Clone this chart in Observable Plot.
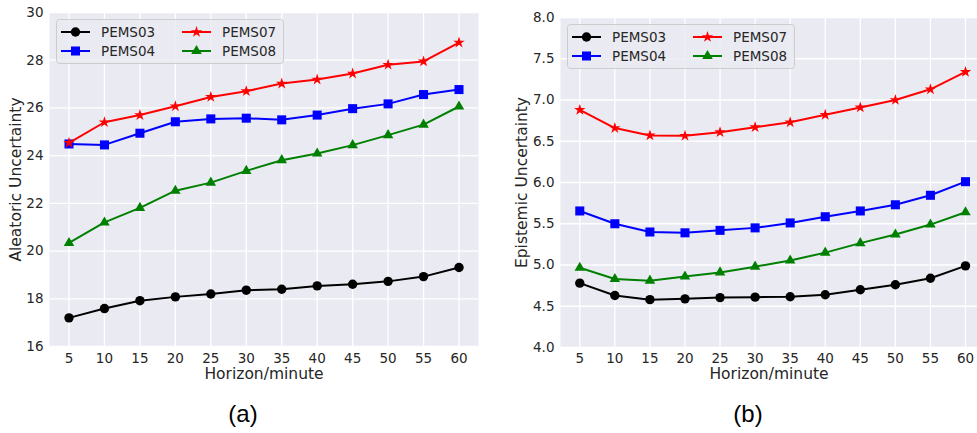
<!DOCTYPE html>
<html><head><meta charset="utf-8">
<script src="https://cdn.jsdelivr.net/npm/d3@7"></script>
<script src="https://cdn.jsdelivr.net/npm/@observablehq/plot@0.6"></script>
<style>
body{margin:0;background:#fff;}
#wrap{position:relative;width:977px;height:433px;overflow:hidden;font-family:"DejaVu Sans",sans-serif;}
.panel{position:absolute;top:0;}
.cap{position:absolute;font-family:"Liberation Sans",Arial,sans-serif;font-size:24px;color:#000;transform:translate(-50%,-50%);white-space:nowrap;}
.legend{position:absolute;}
</style></head><body>
<div id="wrap"></div>
<script>
const horizons = [5, 10, 15, 20, 25, 30, 35, 40, 45, 50, 55, 60];
const seriesNames = ["PEMS03", "PEMS04", "PEMS07", "PEMS08"];

// (a) Aleatoric uncertainty
const aleatoricPEMS03 = [17.2, 17.59, 17.92, 18.08, 18.2, 18.36, 18.4, 18.54, 18.61, 18.73, 18.93, 19.31];
const aleatoricPEMS04 = [24.49, 24.45, 24.94, 25.42, 25.54, 25.57, 25.5, 25.7, 25.97, 26.17, 26.56, 26.77];
const aleatoricPEMS07 = [24.54, 25.4, 25.7, 26.07, 26.46, 26.7, 27.02, 27.19, 27.44, 27.81, 27.95, 28.74];
const aleatoricPEMS08 = [20.34, 21.2, 21.81, 22.53, 22.87, 23.36, 23.81, 24.09, 24.44, 24.86, 25.3, 26.06];
const aleatoricTicks = [16, 18, 20, 22, 24, 26, 28, 30];

// (b) Epistemic uncertainty
const epistemicPEMS03 = [4.78, 4.63, 4.58, 4.59, 4.605, 4.61, 4.615, 4.64, 4.7, 4.76, 4.84, 4.99];
const epistemicPEMS04 = [5.655, 5.5, 5.4, 5.39, 5.42, 5.45, 5.51, 5.585, 5.655, 5.73, 5.845, 6.01];
const epistemicPEMS07 = [6.88, 6.66, 6.57, 6.566, 6.61, 6.67, 6.73, 6.82, 6.91, 7.0, 7.13, 7.34];
const epistemicPEMS08 = [4.966, 4.83, 4.81, 4.86, 4.91, 4.98, 5.055, 5.15, 5.265, 5.37, 5.49, 5.64];
const epistemicTicks = [4.0, 4.5, 5.0, 5.5, 6.0, 6.5, 7.0, 7.5, 8.0];

const colors = ["#000000", "#0000ff", "#ff0000", "#008000"];
const symbols = ["circle", "square", "star", "triangle"];
const radii = [4.7, 5.1, 3.6, 3.9];
const d3symbols = [d3.symbolCircle, d3.symbolSquare, d3.symbolStar, d3.symbolTriangle];

const wrap = document.getElementById("wrap");

function makePanel(o) {
  const data = seriesNames.flatMap((s, i) => horizons.map((h, j) => ({series: s, h, v: o.values[i][j]})));
  const marks = [
    Plot.frame({fill: "#EAEAF2", stroke: null}),
    Plot.gridX(horizons, {stroke: "#ffffff", strokeOpacity: 1, strokeWidth: 1.3}),
    Plot.gridY(o.ticks, {stroke: "#ffffff", strokeOpacity: 1, strokeWidth: 1.3}),
    Plot.axisX(horizons, {tickSize: 0, tickPadding: o.xpad, label: null}),
    Plot.axisY(o.ticks, {tickSize: 0, tickPadding: 6, tickFormat: o.fmt, label: null}),
    Plot.text([o.yLabel], {text: d => d, frameAnchor: "left", dx: o.ylabelDx, rotate: -90, textAnchor: "middle", lineAnchor: "middle", fontSize: 15.5, fill: "#262626"}),
    Plot.text(["Horizon/minute"], {text: d => d, frameAnchor: "bottom", dy: o.xlabelDy, textAnchor: "middle", lineAnchor: "middle", fontSize: 15.5, fill: "#262626"})
  ];
  seriesNames.forEach((s, i) => {
    const d = data.filter(e => e.series === s);
    marks.push(Plot.line(d, {x: "h", y: "v", stroke: colors[i], strokeWidth: 2}));
    marks.push(Plot.dot(d, {x: "h", y: "v", symbol: symbols[i], fill: colors[i], stroke: "none", r: radii[i]}));
  });
  const svg = Plot.plot({
    width: o.width, height: 400,
    marginLeft: o.ml, marginRight: o.mr, marginTop: o.mt, marginBottom: o.mb,
    x: {domain: o.xDomain, axis: null},
    y: {domain: o.yDomain, axis: null},
    style: {fontFamily: "DejaVu Sans", fontSize: "13.5px", color: "#262626", background: "transparent", overflow: "visible"},
    marks
  });
  const div = document.createElement("div");
  div.className = "panel";
  div.style.left = o.left + "px";
  div.appendChild(svg);
  wrap.appendChild(div);
}

function makeLegend(left, top) {
  const W = 227, H = 44;
  const svg = d3.create("svg").attr("width", W + 2).attr("height", H + 2).attr("class", "legend")
    .style("left", left + "px").style("top", top + "px");
  svg.append("rect").attr("x", 0.5).attr("y", 0.5).attr("width", W).attr("height", H).attr("rx", 3)
    .attr("fill", "#EAEAF2").attr("fill-opacity", 0.85).attr("stroke", "#cccccc").attr("stroke-width", 1);
  seriesNames.forEach((s, i) => {
    const col = Math.floor(i / 2), row = i % 2;
    const x0 = 5 + col * 121, y0 = 13 + row * 19;
    const g = svg.append("g");
    g.append("line").attr("x1", x0).attr("x2", x0 + 29).attr("y1", y0).attr("y2", y0)
      .attr("stroke", colors[i]).attr("stroke-width", 2);
    g.append("path").attr("transform", `translate(${x0 + 14.5},${y0})`)
      .attr("d", d3.symbol(d3symbols[i], Math.PI * radii[i] * radii[i])())
      .attr("fill", colors[i]);
    g.append("text").attr("x", x0 + 40).attr("y", y0).attr("dy", "0.35em")
      .attr("font-family", "DejaVu Sans").attr("font-size", "13.5px").attr("fill", "#262626").text(s);
  });
  wrap.appendChild(svg.node());
}

makePanel({
  left: 0, width: 490, ml: 49, mr: 12, mt: 12, mb: 54, xpad: 7,
  xDomain: [2.25, 62.75], yDomain: [16, 30], ticks: aleatoricTicks, fmt: d3.format("d"),
  values: [aleatoricPEMS03, aleatoricPEMS04, aleatoricPEMS07, aleatoricPEMS08],
  yLabel: "Aleatoric Uncertainty", ylabelDx: -33, xlabelDy: 28
});
makePanel({
  left: 490, width: 487, ml: 70, mr: 0, mt: 17, mb: 53, xpad: 6,
  xDomain: [2.25, 61.71], yDomain: [4, 8], ticks: epistemicTicks, fmt: d3.format(".1f"),
  values: [epistemicPEMS03, epistemicPEMS04, epistemicPEMS07, epistemicPEMS08],
  yLabel: "Epistemic Uncertainty", ylabelDx: -38.5, xlabelDy: 27
});
makeLegend(56, 19);
makeLegend(567, 24);

const capA = document.createElement("div"); capA.className = "cap"; capA.textContent = "(a)";
capA.style.left = "243px"; capA.style.top = "414px"; wrap.appendChild(capA);
const capB = document.createElement("div"); capB.className = "cap"; capB.textContent = "(b)";
capB.style.left = "748px"; capB.style.top = "414px"; wrap.appendChild(capB);
</script>
</body></html>
